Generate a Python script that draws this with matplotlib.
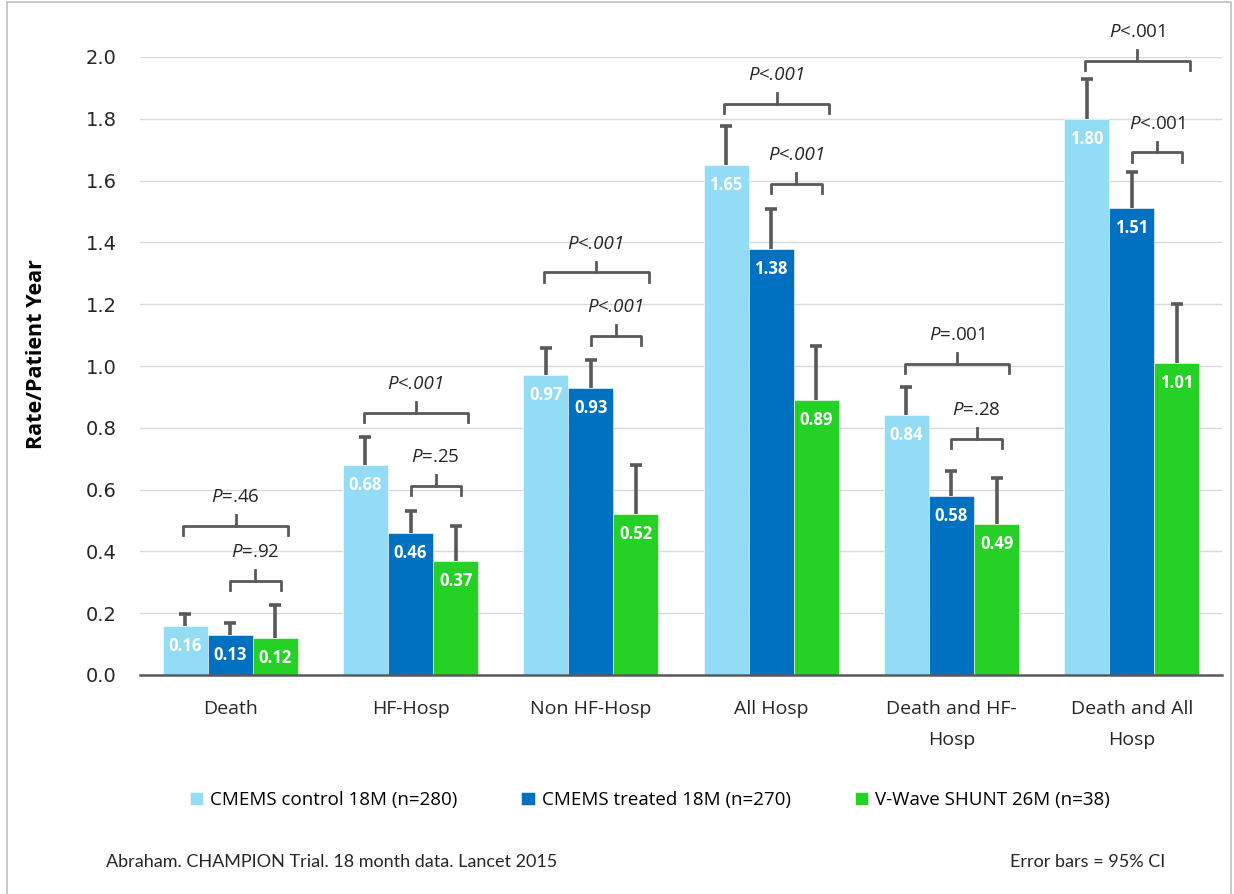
import matplotlib
matplotlib.use("Agg")
import matplotlib.pyplot as plt
import numpy as np

plt.rcParams['font.family'] = ['Open Sans', 'DejaVu Sans']
plt.rcParams['mathtext.fontset'] = 'custom'
plt.rcParams['mathtext.it'] = 'Open Sans:italic'
plt.rcParams['mathtext.rm'] = 'Open Sans'

categories = ['Death', 'HF-Hosp', 'Non HF-Hosp', 'All Hosp', 'Death and HF-\nHosp', 'Death and All\nHosp']
series_names = ['CMEMS control 18M (n=280)', 'CMEMS treated 18M (n=270)', 'V-Wave SHUNT 26M (n=38)']
control = [0.16, 0.68, 0.97, 1.65, 0.84, 1.80]
treated = [0.13, 0.46, 0.93, 1.38, 0.58, 1.51]
shunt = [0.12, 0.37, 0.52, 0.89, 0.49, 1.01]
control_ci_upper = [0.197, 0.771, 1.057, 1.777, 0.931, 1.929]
treated_ci_upper = [0.168, 0.531, 1.019, 1.509, 0.661, 1.627]
shunt_ci_upper = [0.227, 0.483, 0.679, 1.065, 0.637, 1.200]

# p-values: (text, whole label italic?)
p_big = [('$P$=.46', False), ('P<.001', True), ('P<.001', True),
         ('P<.001', True), ('$P$=.001', False), ('$P$<.001', False)]
p_small = [('$P$=.92', False), ('$P$=.25', False), ('P<.001', True),
           ('P<.001', True), ('$P$=.28', False), ('$P$<.001', False)]
big_bracket_y = [0.453, 0.818, 1.273, 1.818, 0.977, 1.958]
small_bracket_y = [0.275, 0.583, 1.068, 1.559, 0.734, 1.661]

colors = ['#92DCF6', '#0070C0', '#24D124']
err_color = '#595959'

fig = plt.figure(figsize=(12.34, 8.94), dpi=100)
ax = fig.add_axes([140 / 1234, 1 - 675 / 894, 1082 / 1234, 618 / 894])

x = np.arange(len(categories))
w = 0.25
all_vals = [control, treated, shunt]
all_ci = [control_ci_upper, treated_ci_upper, shunt_ci_upper]
for i, (vals, ci, c, name) in enumerate(zip(all_vals, all_ci, colors, series_names)):
    xs = x + (i - 1) * w
    ax.bar(xs, vals, width=w, color=c, edgecolor='white', linewidth=0.4, label=name, zorder=2)
    ax.vlines(xs, vals, ci, color=err_color, linewidth=2.6, zorder=3)
    ax.plot(xs, ci, linestyle='none', marker='_', markersize=8, markeredgewidth=2.6,
            color=err_color, zorder=3)
    for xi, v in zip(xs, vals):
        ax.annotate(f'{v:.2f}', (xi, v), xytext=(0, -20), textcoords='offset pixels',
                    ha='center', va='center', color='white', fontsize=12,
                    fontweight='bold', zorder=4)


def bracket(xc, left, right, y, label, all_italic):
    h, t = 0.03, 0.035
    ax.plot([xc + left, xc + left, xc + right, xc + right], [y, y + h, y + h, y],
            color=err_color, linewidth=2, solid_joinstyle='round', clip_on=False, zorder=3)
    mid = xc + (left + right) / 2
    ax.plot([mid, mid], [y + h, y + h + t], color=err_color, linewidth=2,
            clip_on=False, zorder=3)
    ax.text(mid, y + h + t + 0.058, label, ha='center', va='center', fontsize=13.5,
            color='#262626', style='italic' if all_italic else 'normal', clip_on=False)


for i in range(len(categories)):
    bracket(x[i], -0.26, 0.32, big_bracket_y[i], *p_big[i])
    bracket(x[i], 0.0, 0.28, small_bracket_y[i], *p_small[i])

ax.set_xlim(-0.5, len(categories) - 0.5)
ax.set_ylim(0, 2.0)
ax.set_yticks(np.arange(0, 2.01, 0.2))
ax.set_yticklabels([f'{v:.1f}' for v in np.arange(0, 2.01, 0.2)], family='DejaVu Sans')
ax.set_xticks(x)
ax.set_xticklabels(categories, fontsize=14, linespacing=1.95)
ax.tick_params(axis='y', length=0, labelsize=14, pad=17, labelcolor='#262626')
ax.tick_params(axis='x', length=0, pad=18, labelcolor='#262626')
ax.grid(axis='y', color='#D9D9D9', linewidth=1, zorder=0)
ax.set_axisbelow(True)
for s in ['top', 'right', 'left']:
    ax.spines[s].set_visible(False)
ax.spines['bottom'].set_color('#595959')
ax.spines['bottom'].set_linewidth(1.8)
ax.set_ylabel('Rate/Patient Year', fontsize=15.5, fontweight='bold')
ax.yaxis.set_label_coords(-93 / 1082, 0.52)

fig.legend(loc='center', bbox_to_anchor=(650 / 1234, 1 - 800 / 894), ncol=3, frameon=False,
           fontsize=13.5, handlelength=0.7, handleheight=0.7, handletextpad=0.4,
           columnspacing=3.4)

fig.text(106 / 1234, 1 - 862 / 894, 'Abraham. CHAMPION Trial. 18 month data. Lancet 2015',
         family='Lato', fontsize=13, va='center', color='#262626')
fig.text(1165 / 1234, 1 - 862 / 894, 'Error bars = 95% CI', family='Lato', fontsize=13,
         va='center', ha='right', color='#262626')

# light frame around the slide
frame_x = [7 / 1234, 7 / 1234, 1231 / 1234, 1231 / 1234]
frame_y = [0.0, 1 - 2 / 894, 1 - 2 / 894, 0.0]
fig.add_artist(plt.Line2D(frame_x, frame_y, color='#BFBFBF', linewidth=1.2,
                          transform=fig.transFigure))

fig.savefig('out.png', dpi=100)
